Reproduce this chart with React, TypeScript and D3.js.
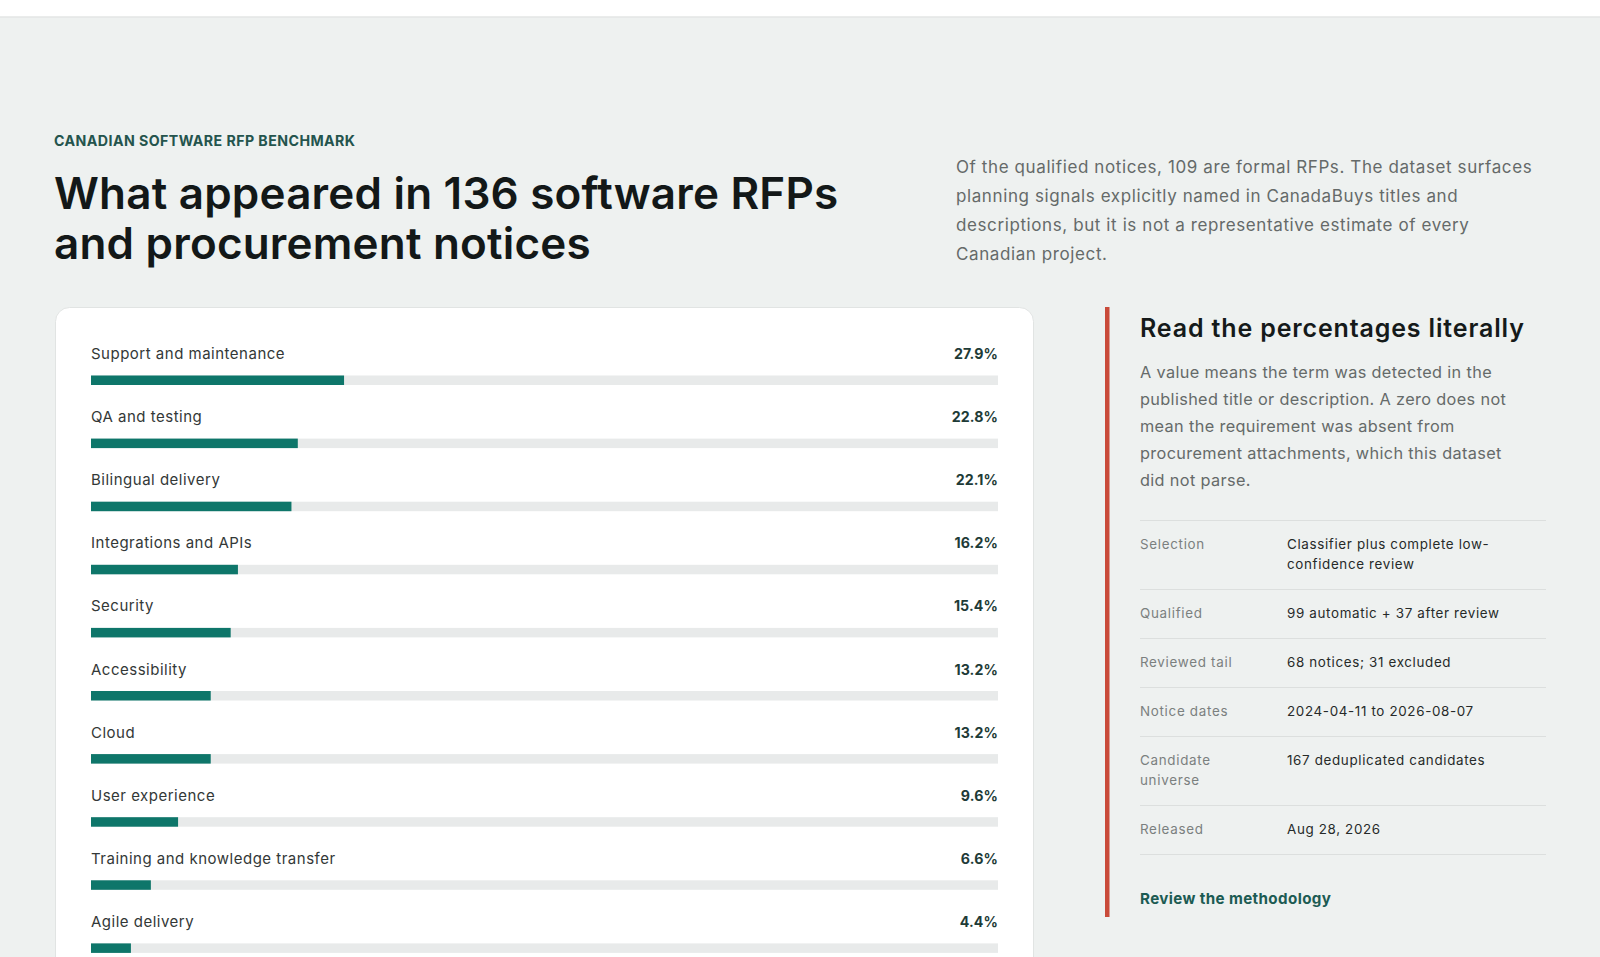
import React from 'react';
import * as d3 from 'd3';

// données
const categories = [
  'Support and maintenance',
  'QA and testing',
  'Bilingual delivery',
  'Integrations and APIs',
  'Security',
  'Accessibility',
  'Cloud',
  'User experience',
  'Training and knowledge transfer',
  'Agile delivery'
];
const shares = [27.9, 22.8, 22.1, 16.2, 15.4, 13.2, 13.2, 9.6, 6.6, 4.4];

const eyebrow = 'CANADIAN SOFTWARE RFP BENCHMARK';
const titleLines = ['What appeared in 136 software RFPs', 'and procurement notices'];
const introLines = [
  'Of the qualified notices, 109 are formal RFPs. The dataset surfaces',
  'planning signals explicitly named in CanadaBuys titles and',
  'descriptions, but it is not a representative estimate of every',
  'Canadian project.'
];
const noteTitle = 'Read the percentages literally';
const noteLines = [
  'A value means the term was detected in the',
  'published title or description. A zero does not',
  'mean the requirement was absent from',
  'procurement attachments, which this dataset',
  'did not parse.'
];
const factLabels = [['Selection'], ['Qualified'], ['Reviewed tail'], ['Notice dates'], ['Candidate', 'universe'], ['Released']];
const factValues = [
  ['Classifier plus complete low-', 'confidence review'],
  ['99 automatic + 37 after review'],
  ['68 notices; 31 excluded'],
  ['2024-04-11 to 2026-08-07'],
  ['167 deduplicated candidates'],
  ['Aug 28, 2026']
];
const linkText = 'Review the methodology';

const W = 1600;
const H = 957;
const FONT = 'Inter, "Noto Sans", sans-serif';

export default function App() {
  // échelles
  const x = d3.scaleLinear().domain([0, 100]).range([91, 998]);
  const rowPitch = 63.1;
  const y = d3.scaleBand<string>()
    .domain(categories)
    .range([330, 330 + rowPitch * categories.length])
    .paddingInner(0);

  // tableau des faits : hauteur de ligne selon le nombre de lignes
  const factTop = 520.5;
  const lineH = 20;
  const rowPad = 14.5;
  const factRows: { top: number; h: number }[] = [];
  let cursor = factTop;
  factLabels.forEach((lab, i) => {
    const n = Math.max(lab.length, factValues[i].length);
    const h = rowPad * 2 + n * lineH;
    factRows.push({ top: cursor, h });
    cursor += h;
  });

  return (
    <div style={{ position: 'absolute', left: 0, top: 0 }}>
      <svg width={W} height={H} style={{ display: 'block', fontFamily: FONT }}>
        <rect x={0} y={0} width={W} height={H} fill="#eef1f0" />
        <rect x={0} y={0} width={W} height={16.5} fill="#ffffff" />
        <line x1={0} x2={W} y1={17} y2={17} stroke="#dde0df" strokeWidth={1} />

        {/* en-tête */}
        <text x={54} y={146} fontSize={14.2} fontWeight={700} fill="#24544d" letterSpacing={0.43}>
          {eyebrow}
        </text>
        {titleLines.map((t, i) => (
          <text key={t} x={54} y={209 + i * 50} fontSize={44} fontWeight={600} fill="#131818" letterSpacing={0.2}>
            {t}
          </text>
        ))}
        {introLines.map((t, i) => (
          <text key={t} x={956} y={173 + i * 28.9} fontSize={17} fill="#656a69" letterSpacing={0.6}>
            {t}
          </text>
        ))}

        {/* carte */}
        <rect x={55.5} y={307.5} width={978} height={720} rx={14} fill="#ffffff" stroke="#e1e4e3" />
        {categories.map((c, i) => {
          const top = y(c) as number;
          return (
            <g key={c}>
              <text x={91} y={top + 29} fontSize={15} fill="#333837" letterSpacing={0.5}>{c}</text>
              <text x={998} y={top + 29} fontSize={14.2} fontWeight={700} fill="#1e3b37" textAnchor="end" letterSpacing={0.1}>
                {shares[i].toFixed(1)}%
              </text>
              <rect x={x(0)} y={top + 45.5} width={x(100) - x(0)} height={9.5} fill="#e8eaea" />
              <rect x={x(0)} y={top + 45.5} width={x(shares[i]) - x(0)} height={9.5} fill="#0e766a" />
            </g>
          );
        })}

        {/* note */}
        <rect x={1105} y={307} width={4.5} height={610} fill="#c94b3a" />
        <text x={1140} y={337} fontSize={25} fontWeight={600} fill="#151a1a" letterSpacing={0.85}>
          {noteTitle}
        </text>
        {noteLines.map((t, i) => (
          <text key={t} x={1140} y={378 + i * 27} fontSize={16.3} fill="#656a69" letterSpacing={0.35}>
            {t}
          </text>
        ))}

        {factRows.map((r, i) => (
          <g key={i}>
            <line x1={1140} x2={1546} y1={r.top} y2={r.top} stroke="#dcdfde" />
            {factLabels[i].map((t, j) => (
              <text key={t} x={1140} y={r.top + 28 + j * lineH} fontSize={13.4} fill="#7b807f" letterSpacing={0.7}>{t}</text>
            ))}
            {factValues[i].map((t, j) => (
              <text key={t} x={1287} y={r.top + 28 + j * lineH} fontSize={13.4} fill="#262a29" letterSpacing={0.65}>{t}</text>
            ))}
          </g>
        ))}
        <line x1={1140} x2={1546} y1={cursor} y2={cursor} stroke="#dcdfde" />

        <text x={1140} y={904} fontSize={15.2} fontWeight={700} fill="#1c5b53" letterSpacing={0.37}>
          {linkText}
        </text>
      </svg>
    </div>
  );
}
